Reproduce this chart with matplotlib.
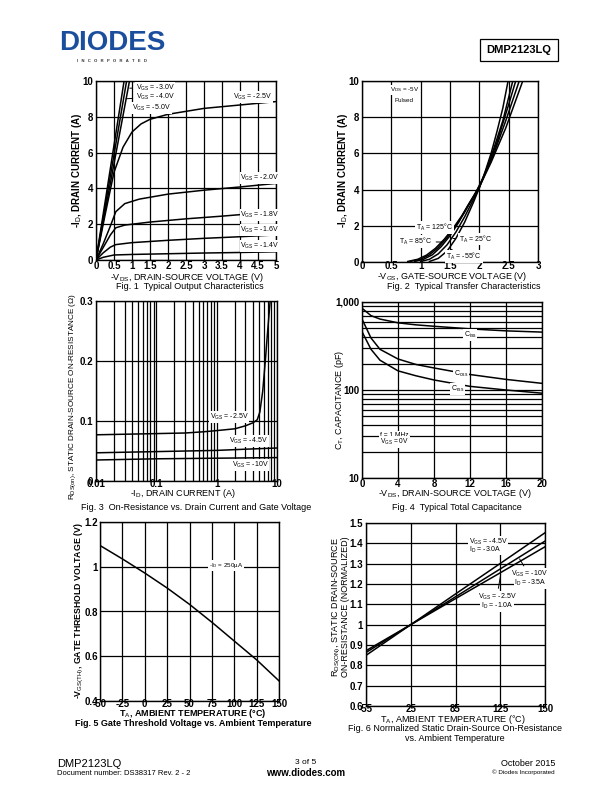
import numpy as np
import matplotlib
matplotlib.use('Agg')
import matplotlib.pyplot as plt
from matplotlib.ticker import FixedLocator, NullFormatter

plt.rcParams['font.family'] = ['Liberation Sans', 'DejaVu Sans']
plt.rcParams['mathtext.fontset'] = 'custom'
plt.rcParams['mathtext.rm'] = 'Liberation Sans'
plt.rcParams['mathtext.it'] = 'Liberation Sans:italic'
plt.rcParams['axes.linewidth'] = 1.0
plt.rcParams['axes.unicode_minus'] = False

# ---- Fig 1: output characteristics (-VDS vs -ID) ----
v14 = [0, 0.2, 0.5, 1, 2, 3, 4, 5]
i14 = [0, 0.15, 0.28, 0.31, 0.35, 0.39, 0.42, 0.46]
v16 = [0, 0.2, 0.4, 0.55, 1, 2, 3, 4, 5]
i16 = [0, 0.4, 0.72, 0.86, 0.97, 1.1, 1.21, 1.3, 1.4]
v18 = [0, 0.2, 0.4, 0.55, 0.8, 1.5, 2.5, 3.5, 5]
i18 = [0, 0.7, 1.4, 1.8, 1.95, 2.12, 2.3, 2.45, 2.7]
v20 = [0, 0.2, 0.4, 0.55, 0.8, 1.2, 2, 3, 4, 5]
i20 = [0, 0.9, 1.9, 2.7, 3.15, 3.4, 3.68, 3.9, 4.08, 4.28]
v25 = [0, 0.25, 0.5, 0.75, 1.0, 1.25, 1.5, 2, 3, 4, 5]
i25 = [0, 2.5, 4.9, 6.3, 7.15, 7.6, 7.86, 8.14, 8.47, 8.66, 8.85]
v30 = [0, 0.93]
i30 = [0, 10]
v40 = [0, 0.85]
i40 = [0, 10]
v50 = [0, 0.78]
i50 = [0, 10]

# ---- Fig 2: transfer characteristics ----
vg_m55 = [1.15, 1.3, 1.45, 1.6, 1.75, 1.9, 2.0, 2.1, 2.2, 2.3, 2.4, 2.49]
id_m55 = [0.03, 0.2, 0.6, 1.3, 2.2, 3.3, 4.1, 5.0, 6.0, 7.2, 8.5, 10]
vg_25 = [1.0, 1.15, 1.3, 1.45, 1.6, 1.75, 1.9, 2.0, 2.2, 2.4, 2.57]
id_25 = [0.03, 0.15, 0.45, 0.95, 1.65, 2.5, 3.45, 4.1, 5.8, 7.8, 10]
vg_85 = [0.9, 1.05, 1.2, 1.35, 1.5, 1.65, 1.8, 1.95, 2.1, 2.3, 2.5, 2.62]
id_85 = [0.03, 0.15, 0.4, 0.85, 1.45, 2.2, 3.1, 3.9, 4.9, 6.6, 8.7, 10]
vg_125 = [0.82, 1.0, 1.15, 1.3, 1.45, 1.6, 1.75, 1.9, 2.05, 2.25, 2.45, 2.68]
id_125 = [0.03, 0.15, 0.4, 0.8, 1.35, 2.0, 2.75, 3.6, 4.5, 6.0, 7.8, 10]
vg_150 = [0.78, 0.95, 1.1, 1.25, 1.4, 1.55, 1.7, 1.85, 2.0, 2.2, 2.45, 2.74]
id_150 = [0.03, 0.15, 0.38, 0.75, 1.25, 1.85, 2.55, 3.35, 4.15, 5.5, 7.4, 10]

# ---- Fig 3: on-resistance vs drain current ----
id_r25 = [0.01, 0.1, 0.3, 0.6, 1, 2, 3, 4, 4.7, 5.2, 5.8, 6.4, 7.0, 7.7]
r25 = [0.077, 0.079, 0.080, 0.082, 0.084, 0.087, 0.092, 0.097, 0.102, 0.115, 0.15, 0.2, 0.25, 0.3]
id_r45 = [0.01, 0.1, 1, 3, 10]
r45 = [0.047, 0.049, 0.051, 0.053, 0.055]
id_r10 = [0.01, 0.1, 1, 10]
r10 = [0.035, 0.037, 0.038, 0.039]

# ---- Fig 4: capacitance ----
vds_c = [0, 1, 2, 4, 6, 8, 12, 16, 20]
ciss = [850, 700, 640, 580, 550, 530, 495, 470, 455]
coss = [640, 390, 290, 225, 195, 178, 150, 132, 119]
crss = [460, 290, 218, 165, 145, 130, 110, 100, 92]

# ---- Fig 5: gate threshold voltage ----
t5 = [-50, -25, 0, 25, 50, 75, 100, 125, 150]
vth = [1.095, 1.035, 0.972, 0.905, 0.832, 0.752, 0.668, 0.584, 0.49]

# ---- Fig 6: normalized on-resistance ----
t6 = [-55, 25, 85, 125, 150]
rn_45 = [0.849, 1.0, 1.151, 1.301, 1.452]
rn_10 = [0.863, 1.0, 1.137, 1.274, 1.411]
rn_25 = [0.872, 1.0, 1.128, 1.255, 1.383]

W, H = 612, 792
fig = plt.figure(figsize=(6.12, 7.92), dpi=100)


def ax_at(x0, y0, x1, y1):
    return fig.add_axes([x0 / W, 1 - y1 / H, (x1 - x0) / W, (y1 - y0) / H])


def ftext(x, y, s, **kw):
    kw.setdefault('fontsize', 6.5)
    kw.setdefault('ha', 'center')
    kw.setdefault('va', 'center')
    fig.text(x / W, 1 - y / H, s, **kw)


def style(ax, xpad=0.5, ypad=2):
    ax.tick_params(direction='in', length=0, labelsize=7)
    ax.tick_params(axis='x', pad=xpad)
    ax.tick_params(axis='y', pad=ypad)
    for lbl in ax.get_xticklabels() + ax.get_yticklabels():
        lbl.set_fontweight('bold')
    ax.grid(True, which='both', color='black', lw=0.9)
    ax.set_axisbelow(True)


box = dict(facecolor='white', edgecolor='none', pad=0.6)
lw = 1.1
fs = 5

# header
ftext(112, 43, 'DIODES', fontsize=20, fontweight='bold', color='#1b4f9e')
ftext(112, 61, 'I   N   C   O   R   P   O   R   A   T   E   D', fontsize=3, fontweight='bold', color='#333333')
ftext(519, 50, 'DMP2123LQ', fontsize=8, fontweight='bold',
      bbox=dict(facecolor='white', edgecolor='black', boxstyle='square,pad=0.55', lw=0.9))

# Fig 1
ax1 = ax_at(96, 81, 276, 260)
ax1.plot(v14, i14, 'k', lw=lw)
ax1.plot(v16, i16, 'k', lw=lw)
ax1.plot(v18, i18, 'k', lw=lw)
ax1.plot(v20, i20, 'k', lw=lw)
ax1.plot(v25, i25, 'k', lw=lw)
ax1.plot(v30, i30, 'k', lw=lw)
ax1.plot(v40, i40, 'k', lw=lw)
ax1.plot(v50, i50, 'k', lw=lw)
ax1.set_xlim(0, 5)
ax1.set_ylim(0, 10)
ax1.set_xticks(np.arange(0, 5.01, 0.5))
ax1.set_xticklabels(['0', '0.5', '1', '1.5', '2', '2.5', '3', '3.5', '4', '4.5', '5'])
ax1.set_yticks([0, 2, 4, 6, 8, 10])
style(ax1)
ax1.annotate(r'V$_{\mathrm{GS}}$ = -3.0V', xy=(0.86, 9.6), xytext=(1.1, 9.6), fontsize=fs,
             va='center', bbox=box, arrowprops=dict(arrowstyle='-', lw=0.7))
ax1.annotate(r'V$_{\mathrm{GS}}$ = -4.0V', xy=(0.76, 9.0), xytext=(1.12, 9.1), fontsize=fs,
             va='center', bbox=box, arrowprops=dict(arrowstyle='-', lw=0.7))
ax1.text(1.0, 8.5, r'V$_{\mathrm{GS}}$ = -5.0V', fontsize=fs, va='center', bbox=box)
ax1.text(4.35, 9.1, r'V$_{\mathrm{GS}}$ = -2.5V', fontsize=fs, va='center', ha='center', bbox=box)
ax1.text(4.55, 4.6, r'V$_{\mathrm{GS}}$ = -2.0V', fontsize=fs, va='center', ha='center', bbox=box)
ax1.text(4.55, 2.5, r'V$_{\mathrm{GS}}$ = -1.8V', fontsize=fs, va='center', ha='center', bbox=box)
ax1.text(4.55, 1.7, r'V$_{\mathrm{GS}}$ = -1.6V', fontsize=fs, va='center', ha='center', bbox=box)
ax1.text(4.55, 0.8, r'V$_{\mathrm{GS}}$ = -1.4V', fontsize=fs, va='center', ha='center', bbox=box)
ftext(77, 170, r'-I$_{\mathrm{D}}$, DRAIN CURRENT (A)', rotation=90, fontsize=7, fontweight='bold')
ftext(187, 277, r'-V$_{\mathrm{DS}}$, DRAIN-SOURCE VOLTAGE (V)')
ftext(190, 286.5, 'Fig. 1  Typical Output Characteristics')

# Fig 2
ax2 = ax_at(362, 81, 538, 262)
for v, i in [(vg_m55, id_m55), (vg_25, id_25), (vg_85, id_85), (vg_125, id_125), (vg_150, id_150)]:
    ax2.plot(v, i, 'k', lw=lw)
ax2.set_xlim(0, 3)
ax2.set_ylim(0, 10)
ax2.set_xticks([0, 0.5, 1, 1.5, 2, 2.5, 3])
ax2.set_xticklabels(['0', '0.5', '1', '1.5', '2', '2.5', '3'])
ax2.set_yticks([0, 2, 4, 6, 8, 10])
style(ax2, xpad=-0.8)
ax2.text(0.72, 9.5, r'V$_{\mathrm{DS}}$ = -5V', fontsize=4.5, ha='center', va='center', bbox=box)
ax2.text(0.72, 8.9, 'Pulsed', fontsize=4.5, ha='center', va='center', bbox=box)
ax2.text(1.23, 1.9, r'T$_{\mathrm{A}}$ = 125°C', fontsize=fs, ha='center', va='center', bbox=box)
ax2.annotate(r'T$_{\mathrm{A}}$ = 85°C', xy=(1.42, 1.1), xytext=(0.92, 1.12), fontsize=fs,
             ha='center', va='center', bbox=box, arrowprops=dict(arrowstyle='-', lw=0.7))
ax2.annotate(r'T$_{\mathrm{A}}$ = 25°C', xy=(1.55, 1.3), xytext=(1.93, 1.27), fontsize=fs,
             ha='center', va='center', bbox=box, arrowprops=dict(arrowstyle='-', lw=0.7))
ax2.annotate(r'T$_{\mathrm{A}}$ = -55°C', xy=(1.52, 0.7), xytext=(1.74, 0.3), fontsize=fs,
             ha='center', va='center', bbox=box, arrowprops=dict(arrowstyle='-', lw=0.7))
ftext(343, 170, r'-I$_{\mathrm{D}}$, DRAIN CURRENT (A)', rotation=90, fontsize=7, fontweight='bold')
ftext(452, 276.5, r'-V$_{\mathrm{GS}}$, GATE-SOURCE VOLTAGE (V)')
ftext(464, 286.5, 'Fig. 2  Typical Transfer Characteristics')

# Fig 3
ax3 = ax_at(96, 301, 277, 481)
ax3.plot(id_r25, r25, 'k', lw=lw)
ax3.plot(id_r45, r45, 'k', lw=lw)
ax3.plot(id_r10, r10, 'k', lw=lw)
ax3.set_xscale('log')
ax3.set_xlim(0.01, 10)
ax3.set_ylim(0, 0.3)
ax3.set_xticks([0.01, 0.1, 1, 10])
ax3.set_xticklabels(['0.01', '0.1', '1', '10'])
ax3.xaxis.set_minor_locator(FixedLocator([m * d for d in [0.01, 0.1, 1] for m in range(2, 10)]))
ax3.xaxis.set_minor_formatter(NullFormatter())
ax3.set_yticks([0, 0.1, 0.2, 0.3])
ax3.set_yticklabels(['0', '0.1', '0.2', '0.3'])
style(ax3, xpad=-1.2)
ax3.tick_params(which='minor', length=0)
ax3.text(1.6, 0.107, r'V$_{\mathrm{GS}}$ = -2.5V', fontsize=fs, ha='center', va='center', bbox=box)
ax3.text(3.4, 0.066, r'V$_{\mathrm{GS}}$ = -4.5V', fontsize=fs, ha='center', va='center', bbox=box)
ax3.text(3.6, 0.027, r'V$_{\mathrm{GS}}$ = -10V', fontsize=fs, ha='center', va='center', bbox=box)
ftext(73, 397, r'R$_{\mathrm{DS(on)}}$, STATIC DRAIN-SOURCE ON-RESISTANCE (Ω)', rotation=90, fontsize=5.9)
ftext(183, 493, r'-I$_{\mathrm{D}}$, DRAIN CURRENT (A)')
ftext(196, 507, 'Fig. 3  On-Resistance vs. Drain Current and Gate Voltage')

# Fig 4
ax4 = ax_at(362, 302, 542, 478)
ax4.plot(vds_c, ciss, 'k', lw=lw)
ax4.plot(vds_c, coss, 'k', lw=lw)
ax4.plot(vds_c, crss, 'k', lw=lw)
ax4.set_yscale('log')
ax4.set_xlim(0, 20)
ax4.set_ylim(10, 1000)
ax4.set_xticks([0, 4, 8, 12, 16, 20])
ax4.set_yticks([10, 100, 1000])
ax4.set_yticklabels(['10', '100', '1,000'])
ax4.yaxis.set_minor_locator(FixedLocator([m * d for d in [10, 100] for m in range(2, 10)]))
ax4.yaxis.set_minor_formatter(NullFormatter())
style(ax4)
ax4.tick_params(which='minor', length=0)
ax4.text(12.0, 420, r'C$_{\mathrm{iss}}$', fontsize=fs, ha='center', va='center', bbox=box)
ax4.text(11.0, 152, r'C$_{\mathrm{oss}}$', fontsize=fs, ha='center', va='center', bbox=box)
ax4.text(10.6, 103, r'C$_{\mathrm{rss}}$', fontsize=fs, ha='center', va='center', bbox=box)
ax4.text(3.6, 30.5, 'f = 1 MHz', fontsize=4.8, ha='center', va='center', bbox=box)
ax4.text(3.6, 25.5, r'V$_{\mathrm{GS}}$ = 0V', fontsize=4.8, ha='center', va='center', bbox=box)
ftext(340, 400, r'C$_{\mathrm{T}}$, CAPACITANCE (pF)', rotation=90)
ftext(455, 493, r'-V$_{\mathrm{DS}}$, DRAIN-SOURCE VOLTAGE (V)')
ftext(457, 507, 'Fig. 4  Typical Total Capacitance')

# Fig 5
ax5 = ax_at(100, 522, 279, 701)
ax5.plot(t5, vth, 'k', lw=lw)
ax5.set_xlim(-50, 150)
ax5.set_ylim(0.4, 1.2)
ax5.set_xticks(np.arange(-50, 151, 25))
ax5.set_yticks([0.4, 0.6, 0.8, 1.0, 1.2])
ax5.set_yticklabels(['0.4', '0.6', '0.8', '1', '1.2'])
style(ax5, xpad=-1.2, ypad=1.5)
ax5.text(91, 1.005, r'-I$_{\mathrm{D}}$ = 250µA', fontsize=4.5, ha='center', va='center', bbox=box)
ftext(79, 611, r'-V$_{\mathrm{GS(TH)}}$, GATE THRESHOLD VOLTAGE (V)', rotation=90, fontsize=6.3, fontweight='bold')
ftext(193, 714, r'T$_{\mathrm{A}}$, AMBIENT TEMPERATURE (°C)', fontweight='bold')
ftext(193, 723, 'Fig. 5 Gate Threshold Voltage vs. Ambient Temperature', fontweight='bold')

# Fig 6
pos6 = [0, 1, 2, 3, 4]
ax6 = ax_at(366, 523, 545, 706)
ax6.set_xscale('function', functions=(lambda t: np.interp(t, t6, pos6),
                                      lambda p: np.interp(p, pos6, t6)))
ax6.plot(t6, rn_45, 'k', lw=lw)
ax6.plot(t6, rn_10, 'k', lw=lw)
ax6.plot(t6, rn_25, 'k', lw=lw)
ax6.set_xlim(-55, 150)
ax6.set_ylim(0.6, 1.5)
ax6.set_xticks(t6)
ax6.set_xticklabels(['-55', '25', '85', '125', '150'])
ax6.xaxis.set_minor_locator(FixedLocator([]))
ax6.set_yticks(np.round(np.arange(0.6, 1.51, 0.1), 1))
ax6.set_yticklabels(['0.6', '0.7', '0.8', '0.9', '1', '1.1', '1.2', '1.3', '1.4', '1.5'])
style(ax6, xpad=-1.2)
ax6.text(114, 1.405, r'V$_{\mathrm{GS}}$ = -4.5V', fontsize=fs, ha='center', va='center', bbox=box)
ax6.text(112, 1.37, r'I$_{\mathrm{D}}$ = -3.0A', fontsize=fs, ha='center', va='center', bbox=box)
ax6.annotate(r'V$_{\mathrm{GS}}$ = -10V', xy=(135, 1.335), xytext=(141, 1.248), fontsize=fs,
             ha='center', va='center', bbox=box, arrowprops=dict(arrowstyle='-', lw=0.7))
ax6.text(142, 1.203, r'I$_{\mathrm{D}}$ = -3.5A', fontsize=fs, ha='center', va='center', bbox=box)
ax6.annotate(r'V$_{\mathrm{GS}}$ = -2.5V', xy=(125.5, 1.26), xytext=(122, 1.136), fontsize=fs,
             ha='center', va='center', bbox=box, arrowprops=dict(arrowstyle='-', lw=0.7))
ax6.text(122, 1.092, r'I$_{\mathrm{D}}$ = -1.0A', fontsize=fs, ha='center', va='center', bbox=box)
ftext(336, 607, r'R$_{\mathrm{DS(ON)}}$, STATIC DRAIN-SOURCE', rotation=90)
ftext(345, 607, 'ON-RESISTANCE (NORMALIZED)', rotation=90)
ftext(453, 719, r'T$_{\mathrm{A}}$, AMBIENT TEMPERATURE (°C)')
ftext(455, 728.5, 'Fig. 6 Normalized Static Drain-Source On-Resistance')
ftext(455, 738.5, 'vs. Ambient Temperature')

# footer
ftext(57, 764, 'DMP2123LQ', fontsize=8, ha='left')
ftext(57, 773.5, 'Document number: DS38317 Rev. 2 - 2', fontsize=5.5, ha='left')
ftext(306, 763, '3 of 5', fontsize=6)
ftext(306, 773, 'www.diodes.com', fontsize=7, fontweight='bold')
ftext(555, 764, 'October 2015', fontsize=6.5, ha='right')
ftext(555, 772.5, '© Diodes Incorporated', fontsize=4.5, ha='right')

fig.savefig('out.png', dpi=100)
